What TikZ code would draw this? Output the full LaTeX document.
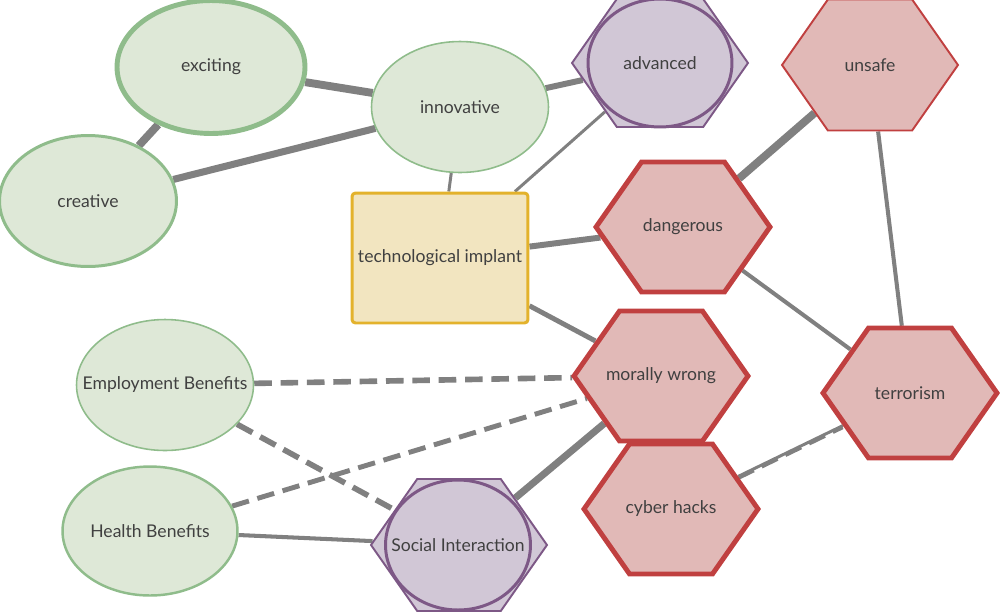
\documentclass[tikz,border=0pt]{standalone}
\usepackage{fontspec}
\setmainfont{Lato}
\usetikzlibrary{shapes.geometric,shapes.symbols,backgrounds}

\definecolor{greenfill}{RGB}{222,232,215}
\definecolor{greenline}{RGB}{143,188,139}
\definecolor{redfill}{RGB}{225,185,183}
\definecolor{redline}{RGB}{192,64,64}
\definecolor{purplefill}{RGB}{209,199,214}
\definecolor{purpleline}{RGB}{125,88,134}
\definecolor{yellowfill}{RGB}{242,229,192}
\definecolor{yellowline}{RGB}{227,178,44}
\definecolor{linkgray}{RGB}{128,128,128}
\definecolor{textgray}{RGB}{64,64,64}

\tikzset{
    every node/.style={text=textgray, font=\fontsize{10}{12}\selectfont},
    goodnode/.style={ellipse, draw=greenline, fill=greenfill, inner sep=-40pt,
            minimum width=3.54cm, minimum height=2.62cm, line width=#1},
    goodnode/.default=0.9pt,
    badnode/.style={signal, signal to=east and west, signal pointer angle=110,
            draw=redline, fill=redfill, inner sep=-40pt,
            minimum width=3.48cm, minimum height=2.6cm, line width=#1},
    badnode/.default=2.8pt,
    mixnode/.style={signal, signal to=east and west, signal pointer angle=110,
            draw=purpleline, fill=purplefill, inner sep=-40pt, line width=1.1pt,
            minimum width=3.52cm, minimum height=2.56cm},
    mixring/.style={ellipse, draw=purpleline, line width=1.7pt, inner sep=-40pt,
            minimum width=2.88cm, minimum height=2.56cm},
    topicnode/.style={rectangle, rounded corners=2pt, draw=yellowline, fill=yellowfill,
            line width=1.7pt, minimum width=3.52cm, minimum height=2.6cm},
    link/.style={draw=linkgray, line width=#1},
    link/.default=2.3pt,
    dashlink/.style={draw=linkgray, line width=#1, dash pattern=on 10pt off 5pt},
    dashlink/.default=3.2pt
}

\begin{document}
\begin{tikzpicture}[x=0.02cm, y=-0.02cm]

            \useasboundingbox (0,0) rectangle (1000,613);

            % positive words
            \node[goodnode=2.8pt, minimum width=3.76cm, minimum height=2.66cm] (exciting) at (211,67) {exciting};
            \node[goodnode] (innovative) at (460,107) {innovative};
            \node[goodnode=1.7pt] (creative) at (88,201) {creative};
            \node[goodnode] (employment) at (165,385) {Employment Benefits};
            \node[goodnode=1.4pt, minimum width=3.5cm, minimum height=2.58cm] (health) at (150,531) {Health Benefits};

            % mixed words
            \node[mixnode] (advanced) at (660,63) {};
            \node[mixring] (advancedring) at (660,63) {advanced};
            \node[mixnode, minimum height=2.64cm] (social) at (459,545) {};
            \node[mixring, minimum width=2.9cm, minimum height=2.6cm] (socialring) at (458,545) {Social Interaction};

            % negative words
            \node[badnode=1.1pt, minimum width=3.52cm, minimum height=2.62cm] (unsafe) at (870,65) {unsafe};
            \node[badnode] (dangerous) at (683,227) {dangerous};
            \node[badnode] (morally) at (661,376) {morally wrong};
            \node[badnode] (terrorism) at (910,393) {terrorism};
            \node[badnode] (cyber) at (671,509) {cyber hacks};

            % the topic
            \node[topicnode] (implant) at (440,258) {technological implant};

            \begin{scope}[on background layer]
                \draw[link=4.5pt] (exciting) -- (creative);
                \draw[link=4.5pt] (exciting) -- (innovative);
                \draw[link=4pt] (creative) -- (innovative);
                \draw[link=3.4pt] (innovative) -- (advanced);
                \draw[link=1.7pt] (innovative) -- (implant);
                \draw[link=1.7pt] (advanced) -- (implant);
                \draw[link=4.5pt] (unsafe) -- (dangerous);
                \draw[link] (unsafe) -- (terrorism);
                \draw[link=3.4pt] (implant) -- (dangerous);
                \draw[link] (dangerous) -- (terrorism);
                \draw[link=2.8pt] (implant) -- (morally);
                \draw[link=4pt] (social) -- (morally);
                \draw[link] (health) -- (social);
                \draw[dashlink] (employment) -- (morally);
                \draw[dashlink] (employment) -- (social);
                \draw[dashlink=2.8pt] (health) -- (morally);
                \draw[link=1.7pt] (cyber) -- (terrorism);
                \draw[dashlink=1.7pt, transform canvas={yshift=-1.2pt}] (cyber) -- (terrorism);
            \end{scope}

        \end{tikzpicture}
\end{document}
